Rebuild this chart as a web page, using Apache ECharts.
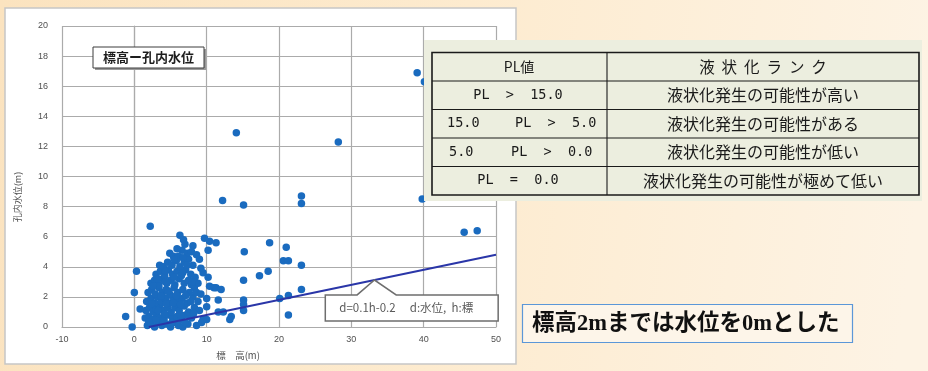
<!DOCTYPE html>
<html>
<head>
<meta charset="utf-8">
<script src="https://cdn.jsdelivr.net/npm/echarts@6/dist/echarts.min.js"></script>
<style>
  html, body { margin: 0; padding: 0; }
  #main { width: 928px; height: 371px; }
</style>
</head>
<body>
<div id="main"></div>
<script>
// Observation wells: [ground elevation h (m), borehole water level d (m)]
var clusterPoints = [
  [1.8,0.1],[2.3,0.2],[2.8,0.0],[3.3,0.3],[3.8,0.1],[4.4,0.2],[5.0,0.0],[5.5,0.3],[6.1,0.1],[6.7,0.0],[7.4,0.2],[8.6,0.1],[9.3,0.3],
  [1.5,0.6],[2.0,0.7],[2.6,0.5],[3.1,0.8],[3.6,0.6],[4.1,0.5],[4.7,0.8],[5.3,0.6],[5.9,0.7],[6.5,0.5],[7.1,0.8],[7.9,0.6],[9.5,0.5],
  [1.6,1.1],[2.1,1.3],[2.6,1.0],[3.0,1.2],[3.5,1.4],[4.0,1.1],[4.6,1.3],[5.1,1.0],[5.6,1.3],[6.2,1.1],[6.9,1.4],[7.5,1.0],[8.3,1.3],[9.0,1.1],[10.0,1.35],
  [1.7,1.7],[2.3,1.9],[2.8,1.6],[3.2,2.0],[3.7,1.7],[4.3,1.9],[4.8,1.6],[5.3,2.0],[5.9,1.8],[6.6,1.9],[7.3,1.6],[8.1,2.0],[8.8,1.7],[10.0,1.9],[11.6,1.8],
  [1.9,2.3],[2.4,2.5],[2.9,2.2],[3.4,2.6],[3.9,2.3],[4.4,2.5],[4.9,2.2],[5.5,2.6],[6.0,2.3],[6.7,2.5],[7.6,2.3],[8.3,2.6],[11.0,2.6],[11.3,2.6],
  [2.3,2.9],[2.8,3.1],[3.4,2.8],[3.9,3.2],[4.5,2.9],[5.0,3.1],[5.6,2.8],[6.2,3.2],[6.9,2.9],[7.5,3.1],[8.8,2.9],[10.4,2.7],[12.0,2.5],
  [3.0,3.5],[3.6,3.7],[4.2,3.4],[4.7,3.8],[5.3,3.5],[5.9,3.7],[6.5,3.4],[7.1,3.8],[7.8,3.5],[8.4,3.3],[9.5,3.6],[10.2,3.3],
  [3.5,4.1],[4.0,4.0],[4.6,4.3],[5.2,4.1],[5.8,4.4],[6.3,4.0],[6.9,4.3],[7.5,4.5],[8.1,4.1],[9.0,4.5],
  [4.9,4.9],[5.4,4.7],[6.1,4.7],[6.6,5.1],[7.3,4.9],[7.9,5.0],[8.1,5.4],[10.2,5.1],
  [6.3,6.1],[6.8,5.8],[9.7,5.9],[10.4,5.7],[11.3,5.6],
  [2.2,6.7],[0.3,3.7],[0.0,2.3],[-1.2,0.7],[-0.3,0.0],[0.8,1.2],
  [12.3,1.0],[11.6,1.0],[13.4,0.7],[13.2,0.5],[10.0,0.5],
  [2.0,0.35],[3.0,0.45],[4.2,0.85],[5.2,0.3],[6.4,0.8],[7.0,0.3],[8.2,0.9],
  [2.4,1.55],[3.3,1.1],[4.4,1.55],[5.4,1.6],[6.4,1.5],[7.8,1.7],[8.6,2.3],
  [2.6,2.7],[3.7,2.05],[4.7,2.4],[5.8,2.1],[7.1,2.1],[7.9,2.8],[9.2,2.2],
  [3.2,3.2],[4.3,3.0],[5.5,3.3],[6.7,3.6],[8.0,3.0],[9.2,3.9],
  [4.3,3.7],[5.5,4.5],[6.7,4.6],[7.3,4.1],[8.6,4.8],[5.9,5.2],[7.0,5.5]
];
var scatteredPoints = [
  [12.2,8.4],[15.1,8.1],[23.1,8.7],[23.1,8.2],[18.7,5.6],[21.0,5.3],[15.2,5.0],
  [20.6,4.4],[21.3,4.4],[23.1,4.1],[18.5,3.7],[17.3,3.4],[15.1,3.1],[23.1,2.5],
  [21.3,2.1],[20.1,1.9],[15.1,1.8],[15.1,1.5],[15.1,1.1],[21.3,0.8],
  [14.1,12.9],[28.2,12.3],[39.1,16.9],[40.1,16.3],[39.8,8.5],[45.6,6.3],[47.4,6.4]
];

// Fitted relation d = 0.1h - 0.2 (water level set to 0 m up to h = 2 m)
var fitSlope = 0.1;
var fitIntercept = -0.2;
var fitRange = [2, 50];
var fitLabel = 'd=0.1h-0.2　 d:水位,  h:標';
var calloutAt = 33.2;

// Axis settings
var xMin = -10, xMax = 50, xStep = 10;
var yMin = 0, yMax = 20, yStep = 2;
var chartTitle = '標高ー孔内水位';
var xName = '標　高(m)';
var yName = '孔内水位(m)';

// Liquefaction rank table
var tableHeader = ['PL値', '液  状  化  ラ  ン  ク'];
var plRanges = [
  ['PL  >  15.0'],
  ['15.0', 'PL  >  5.0'],
  ['5.0', 'PL  >  0.0'],
  ['PL  =  0.0']
];
var rankLabels = [
  '液状化発生の可能性が高い',
  '液状化発生の可能性がある',
  '液状化発生の可能性が低い',
  '液状化発生の可能性が極めて低い'
];
var note = '標高2mまでは水位を0mとした';

var fitLine = fitRange.map(function (h) { return [h, +(fitSlope * h + fitIntercept).toFixed(3)]; });

var chart = echarts.init(document.getElementById('main'), null, { renderer: 'canvas' });

var gridColor = '#ababab';
var labelStyle = { color: '#505050', fontSize: 9, fontFamily: 'Liberation Sans, Arial, sans-serif' };

chart.setOption({
  animation: false,
  backgroundColor: {
    type: 'linear', x: 0, y: 0, x2: 1, y2: 0.3,
    colorStops: [
      { offset: 0, color: '#fbe3bf' },
      { offset: 0.5, color: '#fdebcf' },
      { offset: 1, color: '#fdf3e4' }
    ]
  },
  grid: { left: 62, right: 432, top: 26, bottom: 44 },
  xAxis: {
    type: 'value', min: xMin, max: xMax, interval: xStep,
    axisLine: { show: true, lineStyle: { color: gridColor, width: 1.2 } },
    axisTick: { show: false },
    axisLabel: Object.assign({ margin: 8 }, labelStyle),
    splitLine: { show: true, lineStyle: { color: gridColor, width: 1.2 } }
  },
  yAxis: {
    type: 'value', min: yMin, max: yMax, interval: yStep,
    axisLine: { show: true, lineStyle: { color: gridColor, width: 1.2 } },
    axisTick: { show: false },
    axisLabel: Object.assign({ margin: 14 }, labelStyle),
    splitLine: { show: true, lineStyle: { color: gridColor, width: 1.2 } }
  },
  series: [
    {
      type: 'scatter',
      data: clusterPoints.concat(scatteredPoints),
      symbolSize: 7.5,
      clip: false,
      itemStyle: { color: '#1a6bbf', opacity: 1 },
      z: 3
    },
    {
      type: 'line',
      data: fitLine,
      symbol: 'none',
      lineStyle: { color: '#2a36a8', width: 2 },
      z: 4
    }
  ]
});

function px(p) { return chart.convertToPixel({ gridIndex: 0 }, p); }

function buildGraphics() {
  var g = [];
  // chart panel
  g.push({ type: 'rect', z: -10, shape: { x: 5, y: 8, width: 511, height: 356 },
    style: { fill: '#ffffff', stroke: '#c6c6c6', lineWidth: 1.5 } });

  // title box with shadow
  g.push({ type: 'rect', z: 20, shape: { x: 95, y: 49, width: 111, height: 21 },
    style: { fill: '#9a9a9a' } });
  g.push({ type: 'rect', z: 21, shape: { x: 93, y: 47, width: 111, height: 21 },
    style: { fill: '#ffffff', stroke: '#3c3c3c', lineWidth: 1 } });
  g.push({ type: 'text', z: 22, x: 148.5, y: 57.5,
    style: { text: chartTitle, fill: '#1e1e1e', font: 'bold 13px "Noto Sans CJK JP"', align: 'center', verticalAlign: 'middle' } });

  // axis names
  g.push({ type: 'text', z: 22, x: 18, y: 197, rotation: Math.PI / 2,
    style: { text: yName, fill: '#505050', font: '9px "Noto Sans CJK JP"', align: 'center', verticalAlign: 'middle' } });
  g.push({ type: 'text', z: 22, x: 238, y: 355,
    style: { text: xName, fill: '#505050', font: '9.5px "Noto Sans CJK JP"', align: 'center', verticalAlign: 'middle' } });

  // callout for the fitted line
  var tip = px([calloutAt, fitSlope * calloutAt + fitIntercept]);
  var tl = px([26.4, 2.13]);
  var br = px([50.3, 0.4]);
  var bl = px([30.8, 2.13]);
  var bR = px([36.2, 2.13]);
  g.push({ type: 'polygon', z: 30,
    shape: { points: [[tl[0], tl[1]], [bl[0], tl[1]], [tip[0], tip[1]], [bR[0], tl[1]], [br[0], tl[1]], [br[0], br[1]], [tl[0], br[1]]] },
    style: { fill: '#ffffff', stroke: '#6e6e6e', lineWidth: 1.5 } });
  g.push({ type: 'text', z: 31, x: tl[0] + 14, y: (tl[1] + br[1]) / 2,
    style: { text: fitLabel, fill: '#5a5a5a', font: '11.5px "Noto Sans CJK JP"', verticalAlign: 'middle' } });

  // rank table panel
  g.push({ type: 'rect', z: 100, shape: { x: 424, y: 40, width: 498, height: 161 },
    style: { fill: '#eceedf' } });
  var x0 = 432, xm = 607, x1 = 919, top = 52.5, rowH = 28.5;
  var nRows = rankLabels.length + 1;
  var bottom = top + rowH * nRows;
  g.push({ type: 'rect', z: 101, shape: { x: x0, y: top, width: x1 - x0, height: bottom - top },
    style: { fill: 'none', stroke: '#1a1a1a', lineWidth: 1.6 } });
  g.push({ type: 'line', z: 101, shape: { x1: xm, y1: top, x2: xm, y2: bottom },
    style: { stroke: '#1a1a1a', lineWidth: 1.1 } });
  for (var r = 1; r < nRows; r++) {
    var yy = top + rowH * r;
    g.push({ type: 'line', z: 101, shape: { x1: x0, y1: yy, x2: x1, y2: yy },
      style: { stroke: '#1a1a1a', lineWidth: 1.1 } });
  }
  var cjk = '"Noto Sans CJK JP"';
  var mono = '13.5px "DejaVu Sans Mono", "Liberation Mono", monospace';
  g.push({ type: 'text', z: 102, x: 519, y: top + rowH / 2,
    style: { text: tableHeader[0], fill: '#1a1a1a', font: '14px ' + cjk, align: 'center', verticalAlign: 'middle' } });
  g.push({ type: 'text', z: 102, x: 763, y: top + rowH / 2,
    style: { text: tableHeader[1], fill: '#1a1a1a', font: '15.5px ' + cjk, align: 'center', verticalAlign: 'middle' } });
  var leftStarts = [null, [447, 515], [449, 511], null];
  for (var i = 0; i < rankLabels.length; i++) {
    var cy = top + rowH * (i + 1.5);
    var parts = plRanges[i];
    if (parts.length === 1) {
      g.push({ type: 'text', z: 102, x: 518, y: cy,
        style: { text: parts[0], fill: '#1a1a1a', font: mono, align: 'center', verticalAlign: 'middle' } });
    } else {
      for (var k = 0; k < parts.length; k++) {
        g.push({ type: 'text', z: 102, x: leftStarts[i][k], y: cy,
          style: { text: parts[k], fill: '#1a1a1a', font: mono, align: 'left', verticalAlign: 'middle' } });
      }
    }
    g.push({ type: 'text', z: 102, x: 763, y: cy,
      style: { text: rankLabels[i], fill: '#1a1a1a', font: '16px ' + cjk, align: 'center', verticalAlign: 'middle' } });
  }

  // note box
  g.push({ type: 'rect', z: 100, shape: { x: 522.5, y: 304.5, width: 330, height: 38 },
    style: { fill: '#fdf5e9', stroke: '#5b97d8', lineWidth: 1.2 } });
  g.push({ type: 'text', z: 101, x: 532, y: 324,
    style: { text: note, fill: '#111111', font: 'bold 22.5px "Liberation Serif", "Noto Sans CJK JP"', verticalAlign: 'middle' } });
  return g;
}

chart.setOption({ graphic: buildGraphics() });
</script>
</body>
</html>
